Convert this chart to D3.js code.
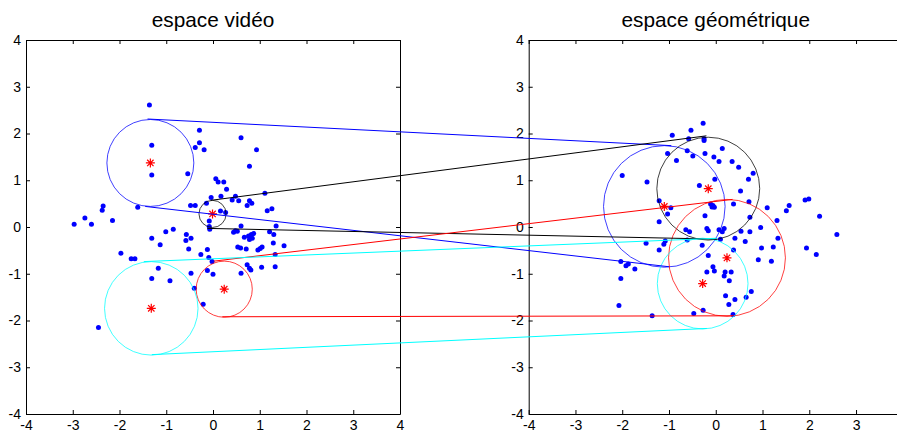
<!DOCTYPE html>
<html>
<head>
<meta charset="utf-8">
<script src="https://cdn.jsdelivr.net/npm/d3@7"></script>
<style>
  html, body { margin: 0; padding: 0; background: #fff; }
  svg { display: block; font-family: "Liberation Sans", Arial, sans-serif; }
</style>
</head>
<body>
<svg id="fig" width="897" height="434"></svg>
<script>
// Samples in the video space
const videoPoints = [
  [-1.36, 2.61], [-1.31, 1.75], [-1.31, 1.11], [-0.29, 2.07], [-0.29, 1.80],
  [-0.38, 1.70], [-0.19, 1.65], [-0.54, 1.14], [0.60, 1.91], [0.93, 1.65],
  [0.78, 1.30], [0.06, 1.03], [0.11, 0.96], [0.23, 0.96], [0.29, 0.81],
  [1.11, 0.72], [-0.04, 0.63], [0.17, 0.66], [-0.14, 0.51], [0.41, 0.58],
  [0.48, 0.66], [0.55, 0.56], [0.73, 0.46], [0.78, 0.56], [0.83, 0.51],
  [-0.48, 0.46], [-0.38, 0.46], [-2.35, 0.45], [-2.37, 0.36], [-1.61, 0.42],
  [1.16, 0.35], [1.26, 0.39], [0.16, 0.34], [0.27, 0.31], [-2.97, 0.06],
  [-2.74, 0.19], [-2.60, 0.06], [-2.15, 0.14], [-0.08, 0.13], [-0.08, 0.01],
  [-0.07, -0.05], [0.60, 0.02], [0.44, -0.11], [0.48, -0.08], [0.52, -0.09],
  [-1.01, -0.10], [-0.85, -0.05], [-1.31, -0.24], [-1.13, -0.38], [-0.57, -0.16],
  [-0.47, -0.24], [-0.58, -0.29], [-0.52, -0.47], [-0.26, -0.59], [-0.12, -0.48],
  [-0.09, -0.65], [0.53, -0.43], [0.59, -0.45], [0.71, -0.47], [0.96, -0.49],
  [1.01, -0.46], [1.05, -0.43], [0.67, -0.22], [0.76, -0.19], [0.82, -0.16],
  [0.87, -0.14], [0.78, -0.27], [0.84, -0.24], [1.21, -0.10], [1.30, -0.16],
  [1.35, 0.02], [1.29, -0.34], [1.52, -0.40], [1.33, -0.59], [-1.97, -0.56],
  [-1.75, -0.68], [-1.67, -0.68], [-1.17, -0.88], [-1.31, -1.10], [-0.92, -1.15],
  [-0.47, -0.99], [-0.12, -0.93], [0.00, -1.01], [-0.02, -0.74], [-0.40, -1.31],
  [-0.21, -1.65], [0.73, -0.81], [0.78, -0.88], [0.81, -0.92], [0.60, -0.99],
  [1.04, -0.86], [1.33, -0.85], [-2.45, -2.15]
];

// Samples in the geometric space
const geoPoints = [
  [-0.27, 2.22], [-0.53, 2.07], [-0.93, 1.96], [-0.58, 1.89], [-0.25, 1.89],
  [-0.25, 1.85], [-0.61, 1.63], [-0.49, 1.52], [-1.03, 1.57], [-0.84, 1.42],
  [-0.23, 1.57], [-0.04, 1.50], [0.07, 1.40], [0.14, 1.68], [0.35, 1.40],
  [0.49, 1.28], [0.80, 1.15], [0.70, 1.02], [-2.00, 1.10], [-1.47, 0.96],
  [-0.35, 0.89], [-0.02, 1.02], [0.53, 0.77], [-1.21, 0.56], [-0.96, 0.41],
  [-1.03, 0.28], [-1.21, 0.11], [-0.11, 0.49], [-0.06, 0.46], [-0.03, 0.42],
  [-0.08, 0.43], [-0.23, 0.24], [0.38, 0.49], [0.71, 0.54], [0.73, 0.21],
  [1.10, 0.41], [1.31, 0.14], [1.51, 0.35], [1.57, 0.46], [1.91, 0.58],
  [1.99, 0.60], [2.22, 0.23], [-0.64, -0.06], [-0.56, -0.10], [-0.19, -0.03],
  [-0.16, -0.08], [0.07, -0.06], [0.18, -0.03], [0.14, -0.10], [0.54, -0.09],
  [0.73, -0.10], [0.96, -0.01], [1.33, -0.24], [0.41, -0.24], [0.63, -0.31],
  [0.98, -0.45], [1.23, -0.43], [-1.49, -0.35], [-1.08, -0.30], [-1.11, -0.37],
  [-1.21, -0.49], [-0.61, -0.28], [-0.29, -0.39], [-0.16, -0.61], [0.38, -0.49],
  [0.91, -0.70], [1.19, -0.73], [1.94, -0.45], [2.15, -0.59], [2.59, -0.16],
  [-2.03, -0.74], [-1.92, -0.83], [-1.87, -0.79], [-1.73, -0.90], [-2.03, -1.10],
  [-2.07, -1.68], [-1.36, -1.90], [-0.06, -0.85], [-0.03, -0.94], [-0.19, -0.96],
  [0.20, -0.96], [0.33, -0.96], [0.18, -1.05], [0.29, -1.15], [0.21, -1.47],
  [0.41, -1.55], [0.28, -1.66], [0.76, -1.38], [0.65, -1.50], [-0.47, -1.85],
  [-0.27, -1.78], [0.37, -1.87], [0.10, -0.26]
];

// Clusters: colour, centre and radius in each space
const clusterColors = ["#0000ff", "#000000", "#ff0000", "#00ffff"];
const videoCenters = [[-1.34, 1.37], [-0.01, 0.28], [0.24, -1.33], [-1.32, -1.74]];
const videoRadii = [0.93, 0.29, 0.60, 1.00];
const geoCenters = [[-1.10, 0.44], [-0.16, 0.82], [0.24, -0.66], [-0.28, -1.21]];
const geoRadii = [1.30, 1.10, 1.25, 0.97];

// Correspondence segments: start in the video space, end in the geometric space
const linkColors = ["#0000ff", "#0000ff", "#000000", "#000000", "#ff0000", "#ff0000", "#00ffff", "#00ffff"];
const linkStarts = [[-1.40, 2.31], [-1.45, 0.44], [-0.05, 0.57], [-0.12, -0.03],
                    [0.02, -0.73], [0.20, -1.92], [-1.48, -0.74], [-1.31, -2.73]];
const linkEnds = [[-0.95, 1.74], [-1.00, -0.85], [-0.20, 1.95], [0.03, -0.26],
                  [0.36, 0.59], [0.36, -1.90], [0.03, -0.24], [-0.19, -2.17]];

const axisTicks = [-4, -3, -2, -1, 0, 1, 2, 3, 4];
// the geometric panel runs past the right edge of the figure, so its last x tick is not drawn
const geoXTicks = [-4, -3, -2, -1, 0, 1, 2, 3];
const titles = ["espace vidéo", "espace géométrique"];

const svg = d3.select("#fig");
const domain = [-4, 4];
const y = d3.scaleLinear().domain(domain).range([414, 40]);
const xVideo = d3.scaleLinear().domain(domain).range([26, 400]);
const xGeo = d3.scaleLinear().domain(domain).range([528.7, 902.8]);

function drawAxes(x, xTicks, title) {
  const g = svg.append("g");
  const [x0, x1] = x.range();
  const [y0, y1] = y.range();
  const fmt = d => String(d);
  g.append("g").attr("transform", `translate(0,${y0})`)
    .call(d3.axisBottom(x).tickValues(xTicks).tickSize(-4).tickSizeOuter(0).tickPadding(6).tickFormat(fmt));
  g.append("g").attr("transform", `translate(${x0},0)`)
    .call(d3.axisLeft(y).tickValues(axisTicks).tickSize(-4).tickSizeOuter(0).tickPadding(5).tickFormat(fmt));
  g.append("g").attr("transform", `translate(0,${y1})`)
    .call(d3.axisTop(x).tickValues(xTicks).tickSize(-4).tickSizeOuter(0).tickFormat(""));
  g.append("g").attr("transform", `translate(${x1},0)`)
    .call(d3.axisRight(y).tickValues(axisTicks).tickSize(-4).tickSizeOuter(0).tickFormat(""));
  g.selectAll("text").attr("font-size", 14).attr("fill", "#000")
    .attr("font-family", "Liberation Sans, Arial, sans-serif");
  g.selectAll(".domain, .tick line").attr("stroke", "#000").attr("stroke-width", 1);
  svg.append("text")
    .attr("x", (x0 + x1) / 2).attr("y", 27)
    .attr("text-anchor", "middle")
    .attr("font-size", 20.8).attr("fill", "#000")
    .text(title);
}

function starPath(cx, cy) {
  const a = 4.5, b = 3.2;
  return `M${cx - a},${cy}H${cx + a}M${cx},${cy - a}V${cy + a}` +
         `M${cx - b},${cy - b}L${cx + b},${cy + b}M${cx - b},${cy + b}L${cx + b},${cy - b}`;
}

function drawPanel(x, points, centers, radii) {
  const g = svg.append("g");
  g.selectAll("circle.pt").data(points).join("circle")
    .attr("class", "pt")
    .attr("cx", d => x(d[0])).attr("cy", d => y(d[1]))
    .attr("r", 2.5).attr("fill", "#0000ff");
  const pxPerUnit = x(1) - x(0);
  g.selectAll("circle.cl").data(centers).join("circle")
    .attr("class", "cl")
    .attr("cx", d => x(d[0])).attr("cy", d => y(d[1]))
    .attr("r", (d, i) => radii[i] * pxPerUnit)
    .attr("fill", "none")
    .attr("stroke", (d, i) => clusterColors[i])
    .attr("stroke-opacity", 0.75)
    .attr("stroke-width", 1);
  g.selectAll("path.star").data(centers).join("path")
    .attr("class", "star")
    .attr("d", d => starPath(x(d[0]), y(d[1])))
    .attr("stroke", "#ff0000").attr("stroke-width", 1.2).attr("fill", "none");
}

drawAxes(xVideo, axisTicks, titles[0]);
drawAxes(xGeo, geoXTicks, titles[1]);
drawPanel(xVideo, videoPoints, videoCenters, videoRadii);
drawPanel(xGeo, geoPoints, geoCenters, geoRadii);

// Segments linking each cluster across the two spaces
svg.append("g").selectAll("line").data(linkStarts).join("line")
  .attr("x1", d => xVideo(d[0])).attr("y1", d => y(d[1]))
  .attr("x2", (d, i) => xGeo(linkEnds[i][0])).attr("y2", (d, i) => y(linkEnds[i][1]))
  .attr("stroke", (d, i) => linkColors[i])
  .attr("stroke-width", 1);
</script>
</body>
</html>
